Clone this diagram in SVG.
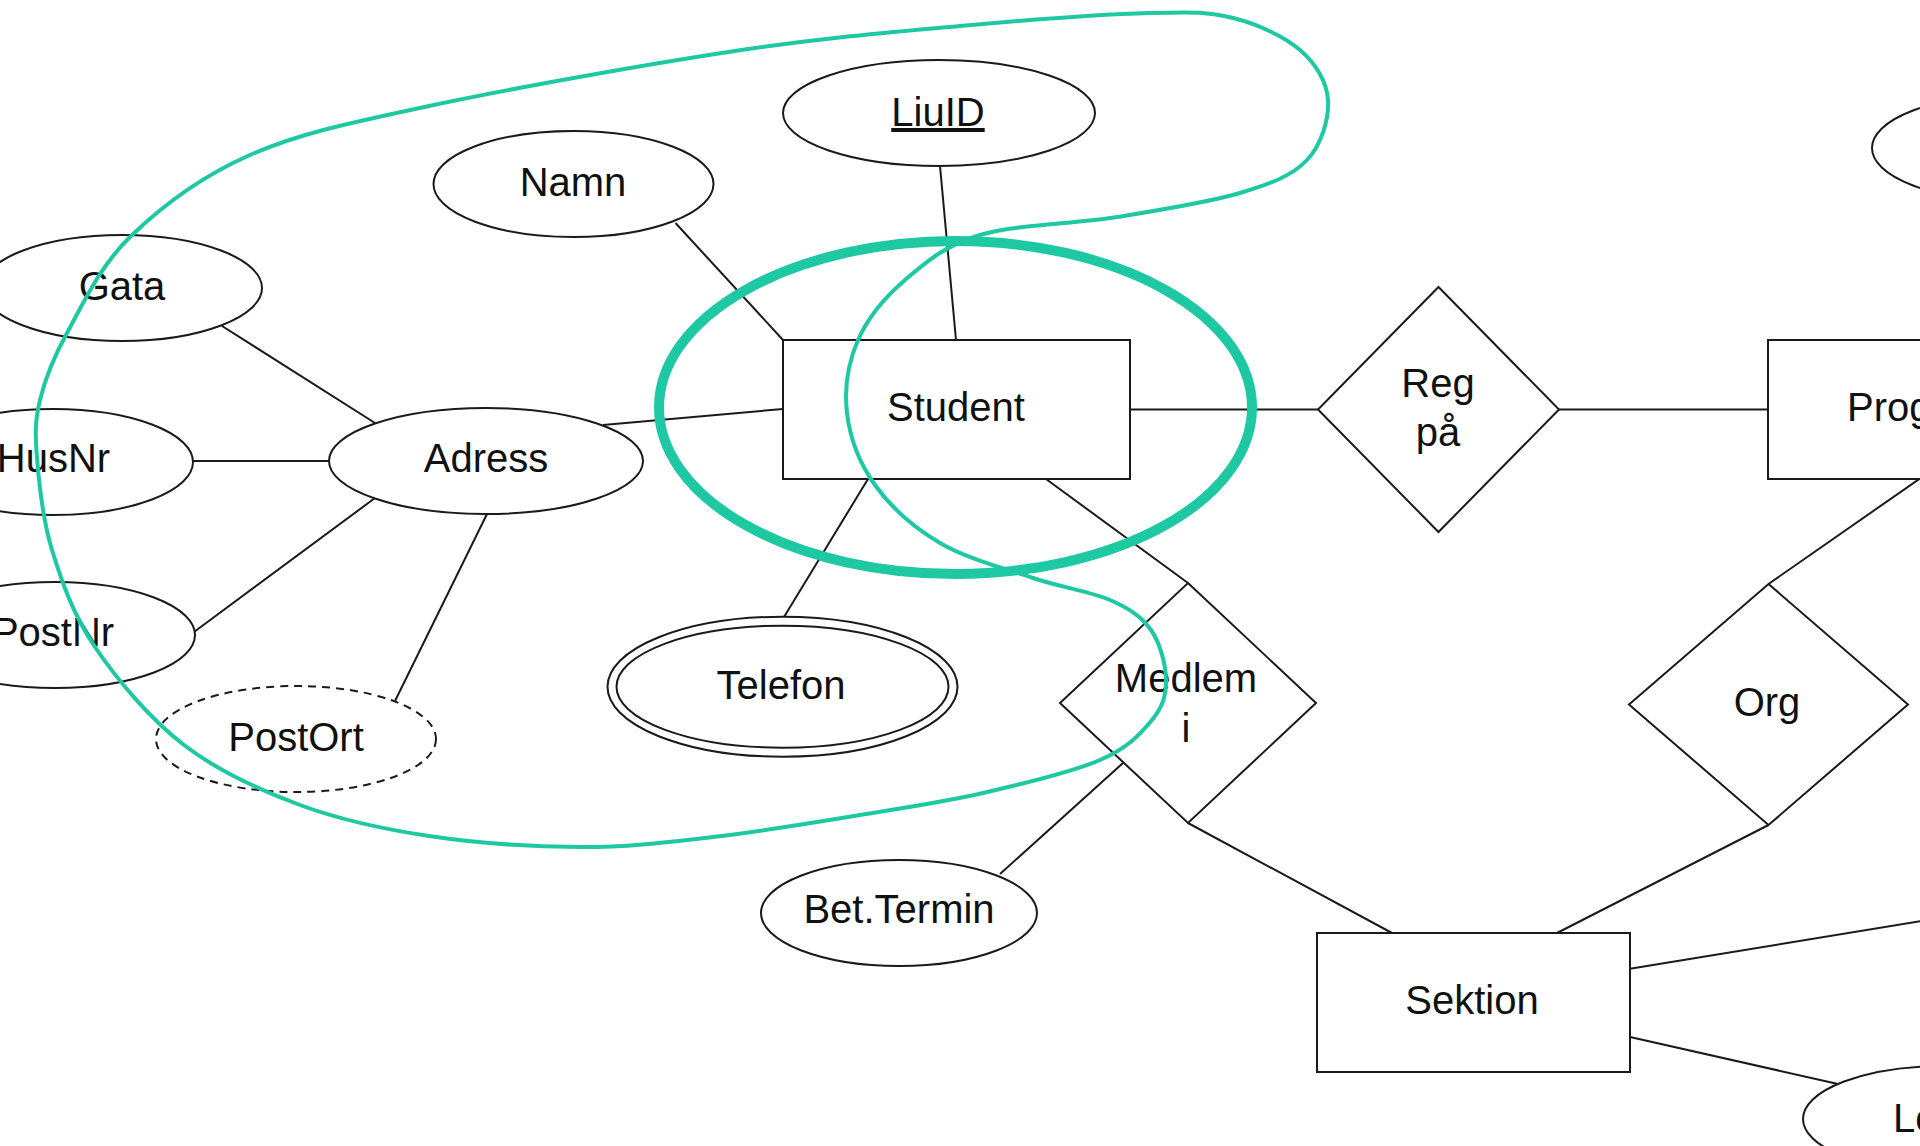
<svg xmlns="http://www.w3.org/2000/svg" width="1920" height="1146" viewBox="0 0 1920 1146">
  <style>
    .shape { fill: #ffffff; stroke: #1a1a1a; stroke-width: 2; }
    .dashed { stroke-dasharray: 8 6; }
    .edge { stroke: #1a1a1a; stroke-width: 2; fill: none; }
    .label { font-family: "Liberation Sans", Arial, Helvetica, sans-serif; font-size: 40px; fill: #111111; text-anchor: middle; }
    .key { text-decoration: underline; }
    .mark { fill: none; stroke: #1dc8a2; stroke-linecap: round; stroke-linejoin: round; }
  </style>
  <rect width="1920" height="1146" fill="#ffffff"/>

  <!-- connectors -->
  <g id="connectors">
    <line class="edge" x1="675.5" y1="223" x2="783" y2="340"/>
    <line class="edge" x1="940" y1="166" x2="956" y2="340"/>
    <line class="edge" x1="603" y1="425" x2="783" y2="409"/>
    <line class="edge" x1="222" y1="326" x2="375" y2="423"/>
    <line class="edge" x1="193" y1="461" x2="329.5" y2="461"/>
    <line class="edge" x1="375" y1="498" x2="194" y2="632"/>
    <line class="edge" x1="487" y1="514" x2="395" y2="701"/>
    <line class="edge" x1="868" y1="479" x2="784" y2="617"/>
    <line class="edge" x1="1130" y1="409.5" x2="1318" y2="409.5"/>
    <line class="edge" x1="1559" y1="409.5" x2="1768" y2="409.5"/>
    <line class="edge" x1="1046" y1="479" x2="1188" y2="583"/>
    <line class="edge" x1="1123" y1="763" x2="1000" y2="874"/>
    <line class="edge" x1="1188" y1="823" x2="1392" y2="933"/>
    <line class="edge" x1="1768.5" y1="825" x2="1557" y2="933"/>
    <line class="edge" x1="1768.5" y1="584" x2="1935" y2="468"/>
    <line class="edge" x1="1630" y1="968.7" x2="1940" y2="918"/>
    <line class="edge" x1="1630" y1="1037" x2="1838" y2="1084"/>
  </g>

  <!-- attributes -->
  <g id="attr-liuid">
    <ellipse class="shape" cx="939" cy="113" rx="156" ry="53"/>
    <text class="label key" x="938" y="126">LiuID</text>
  </g>
  <g id="attr-namn">
    <ellipse class="shape" cx="573.5" cy="184" rx="140" ry="53"/>
    <text class="label" x="573" y="196">Namn</text>
  </g>
  <g id="attr-gata">
    <ellipse class="shape" cx="122" cy="288" rx="140" ry="53"/>
    <text class="label" x="122" y="300">Gata</text>
  </g>
  <g id="attr-husnr">
    <ellipse class="shape" cx="53" cy="462" rx="140" ry="53"/>
    <text class="label" x="53.5" y="472">HusNr</text>
  </g>
  <g id="attr-adress">
    <ellipse class="shape" cx="486" cy="461" rx="157" ry="53"/>
    <text class="label" x="486" y="472">Adress</text>
  </g>
  <g id="attr-postnr">
    <ellipse class="shape" cx="55" cy="635" rx="140" ry="53"/>
    <text class="label" x="53" y="646">PostNr</text>
  </g>
  <g id="attr-postort">
    <ellipse class="shape dashed" cx="296" cy="739" rx="140" ry="53"/>
    <text class="label" x="296" y="751">PostOrt</text>
  </g>
  <g id="attr-telefon">
    <ellipse class="shape" cx="782.5" cy="686.7" rx="175" ry="70"/>
    <ellipse class="shape" cx="782.5" cy="686.7" rx="166" ry="61"/>
    <text class="label" x="781" y="699">Telefon</text>
  </g>
  <g id="attr-bettermin">
    <ellipse class="shape" cx="899" cy="913" rx="138" ry="53"/>
    <text class="label" x="899" y="923">Bet.Termin</text>
  </g>
  <g id="attr-top-right">
    <ellipse class="shape" cx="2012" cy="148" rx="140" ry="53"/>
  </g>
  <g id="attr-lo">
    <ellipse class="shape" cx="1943" cy="1119" rx="140" ry="53"/>
    <text class="label" x="1893" y="1132" style="text-anchor:start">Lo</text>
  </g>

  <!-- entities -->
  <g id="entity-student">
    <rect class="shape" x="783" y="340" width="347" height="139"/>
    <text class="label" x="956" y="421">Student</text>
  </g>
  <g id="entity-prog">
    <rect class="shape" x="1768" y="340" width="200" height="139"/>
    <text class="label" x="1847" y="421" style="text-anchor:start">Prog</text>
  </g>
  <g id="entity-sektion">
    <rect class="shape" x="1317" y="933" width="313" height="139"/>
    <text class="label" x="1472" y="1014">Sektion</text>
  </g>

  <!-- relationships -->
  <g id="rel-regpa">
    <polygon class="shape" points="1438.5,287 1559,409.5 1438.5,532 1318,409.5"/>
    <text class="label" x="1438" y="397">Reg</text>
    <text class="label" x="1438" y="446">på</text>
  </g>
  <g id="rel-medlem">
    <polygon class="shape" points="1188,583 1316,703 1188,823 1060,703"/>
    <text class="label" x="1186" y="692">Medlem</text>
    <text class="label" x="1186" y="742">i</text>
  </g>
  <g id="rel-org">
    <polygon class="shape" points="1768.5,584 1908,704.5 1768.5,825 1629,704.5"/>
    <text class="label" x="1767" y="716">Org</text>
  </g>

  <!-- hand-drawn highlight strokes -->
  <g id="highlight">
    <ellipse class="mark" cx="955.5" cy="407.5" rx="296.5" ry="166.5" stroke-width="10"/>
    <path class="mark" stroke-width="4" d="M 37,458 C 39,483 42.33,518.5 52,550 C 61.67,581.5 73,614.5 95,647 C 117,679.5 149.83,718.67 184,745 C 218.17,771.33 259.17,789.83 300,805 C 340.83,820.17 382.33,829 429,836 C 475.67,843 532.67,846.83 580,847 C 627.33,847.17 666.33,842.33 713,837 C 759.67,831.67 815,822.33 860,815 C 905,807.67 943,802.17 983,793 C 1023,783.83 1071.83,772.17 1100,760 C 1128.17,747.83 1141,733.33 1152,720 C 1163,706.67 1166.17,695 1166,680 C 1165.83,665 1160.33,643.33 1151,630 C 1141.67,616.67 1129.67,608.67 1110,600 C 1090.33,591.33 1061.33,587.5 1033,578 C 1004.67,568.5 966.33,558.5 940,543 C 913.67,527.5 890.5,506.67 875,485 C 859.5,463.33 849.83,437.17 847,413 C 844.17,388.83 848.33,362.17 858,340 C 867.67,317.83 884.67,297.5 905,280 C 925.33,262.5 944.67,245.5 980,235 C 1015.33,224.5 1073.67,224 1117,217 C 1160.33,210 1208.33,202.5 1240,193 C 1271.67,183.5 1292.33,175.5 1307,160 C 1321.67,144.5 1329.17,118.33 1328,100 C 1326.83,81.67 1315.83,63.67 1300,50 C 1284.17,36.33 1258,24.17 1233,18 C 1208,11.83 1195.5,11.67 1150,13 C 1104.5,14.33 1029.17,19.67 960,26 C 890.83,32.33 823.5,37.67 735,51 C 646.5,64.33 509.830,88.67 429,106 C 348.17,123.33 299.83,133.17 250,155 C 200.17,176.83 160.5,207.33 130,237 C 99.5,266.67 82,305.83 67,333 C 52,360.17 45,379.17 40,400 C 35,420.83 35,433 37,458 Z"/>
  </g>
</svg>
